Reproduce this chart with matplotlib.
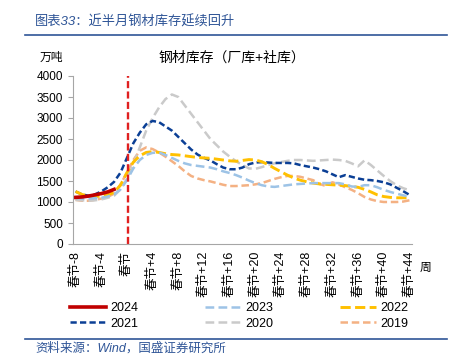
import numpy as np
import matplotlib
matplotlib.use("Agg")
import matplotlib.pyplot as plt
from matplotlib.lines import Line2D

plt.rcParams['font.family'] = ['Liberation Sans', 'Noto Sans CJK SC', 'DejaVu Sans']

weeks = np.arange(-8, 45)
tick_weeks = np.arange(-8, 45, 4)
tick_labels = ['春节' if w == 0 else f'春节{w:+d}' for w in tick_weeks]

y2024 = [1110, 1120, 1140, 1170, 1200, 1240, 1300]

y2023 = [1100, 1080, 1080, 1090, 1100, 1130, 1180, 1300, 1520, 1800, 2000, 2120, 2170,
         2180, 2120, 2050, 1980, 1920, 1880, 1860, 1840, 1820, 1780, 1730, 1690, 1640,
         1580, 1510, 1450, 1400, 1370, 1360, 1380, 1400, 1420, 1430, 1440, 1450, 1450,
         1450, 1450, 1450, 1420, 1370, 1360, 1400, 1400, 1350, 1290, 1240, 1200, 1160, 1130]

y2022 = [1250, 1180, 1140, 1130, 1140, 1170, 1230, 1400, 1700, 1950, 2100, 2180, 2200,
         2180, 2150, 2130, 2120, 2100, 2080, 2060, 2050, 2040, 2020, 2000, 1980, 1970,
         1990, 2010, 2000, 1960, 1890, 1800, 1720, 1640, 1570, 1520, 1480, 1450, 1430,
         1420, 1410, 1400, 1390, 1370, 1350, 1300, 1240, 1170, 1130, 1110, 1100, 1100, 1100]

y2021 = [1250, 1180, 1150, 1180, 1250, 1350, 1480, 1700, 2050, 2400, 2650, 2850, 2930,
         2900, 2800, 2700, 2550, 2400, 2250, 2130, 2050, 1990, 1900, 1820, 1780, 1780,
         1820, 1900, 1940, 1950, 1940, 1930, 1930, 1930, 1920, 1880, 1850, 1820, 1780,
         1730, 1660, 1590, 1640, 1600, 1560, 1530, 1520, 1500, 1470, 1420, 1340, 1260, 1170]

y2020 = [1050, 1040, 1030, 1040, 1060, 1100, 1150, 1300, 1550, 1900, 2300, 2700, 3000,
         3250, 3450, 3560, 3500, 3300, 3100, 2900, 2700, 2500, 2350, 2200, 2080, 1970,
         1880, 1800, 1790, 1830, 1880, 1920, 1950, 1980, 2000, 2000, 1990, 1980, 1990,
         2000, 2010, 2000, 1980, 1920, 1850, 1990, 1880, 1750, 1620, 1500, 1400, 1330, 1280]

y2019 = [1050, 1030, 1030, 1050, 1080, 1120, 1200, 1420, 1700, 2000, 2220, 2300, 2260,
         2180, 2080, 1970, 1860, 1730, 1620, 1560, 1520, 1490, 1450, 1410, 1380, 1380,
         1390, 1400, 1420, 1450, 1500, 1550, 1590, 1620, 1620, 1600, 1560, 1520, 1430,
         1380, 1470, 1420, 1350, 1290, 1210, 1120, 1060, 1020, 1000, 1000, 1000, 1010, 1040]

fig = plt.figure(figsize=(4.56, 3.6), dpi=100)
ax = fig.add_axes([73 / 456, 1 - 244 / 360, 339 / 456, 168 / 360])

ax.plot(weeks, y2019, color='#F4B183', lw=1.8, dashes=(3, 1.5), label='2019')
ax.plot(weeks, y2020, color='#CACACA', lw=1.8, dashes=(3.5, 1.7), label='2020')
ax.plot(weeks, y2021, color='#0B3F95', lw=1.8, dashes=(2.5, 1.3), label='2021')
ax.plot(weeks, y2022, color='#FFC000', lw=2.1, dashes=(3.5, 1.5), label='2022')
ax.plot(weeks, y2023, color='#9DC3E6', lw=1.8, dashes=(3.5, 1.7), label='2023')
ax.plot(weeks[:len(y2024)], y2024, color='#C00000', lw=2.6, label='2024')
ax.axvline(0.15, color='#E02020', lw=1.7, dashes=(3, 1.4))

ax.set_xlim(-8.4, 44.4)
ax.set_ylim(0, 4000)
ax.set_yticks(range(0, 4001, 500))
ax.set_xticks(tick_weeks)
ax.set_xticklabels(tick_labels, rotation=90)
ax.tick_params(axis='x', length=0, pad=5, labelsize=9)
ax.tick_params(axis='y', direction='out', length=3.6, color='#A6A6A6', width=0.8,
               labelsize=8.5, pad=3.6)
for s in ['top', 'right']:
    ax.spines[s].set_visible(False)
for s in ['left', 'bottom']:
    ax.spines[s].set_color('#A6A6A6')
    ax.spines[s].set_linewidth(0.8)

h = {l.get_label(): l for l in ax.get_lines()}
order = ['2024', '2021', '2023', '2020', '2022', '2019']
leg = ax.legend([h[k] for k in order], order, loc='upper left',
                bbox_to_anchor=(70 / 456, 1 - 302 / 360), bbox_transform=fig.transFigure,
                ncol=3, frameon=False, fontsize=9, borderpad=0, borderaxespad=0,
                handlelength=2.9, handletextpad=0.35, columnspacing=5.3, labelspacing=0.3)

fig.text(232 / 456, 1 - 58 / 360, '钢材库存（厂库+社库）', ha='center', va='center', fontsize=10)
fig.text(40 / 456, 1 - 58 / 360, '万吨', ha='left', va='center', fontsize=8.5)
fig.text(426 / 456, 1 - 268 / 360, '周', ha='center', va='center', fontsize=8.5)

blue = '#2F5597'
fig.text(35 / 456, 1 - 22 / 360, '图表33：近半月钢材库存延续回升', ha='left', va='center',
         fontsize=9.5, color=blue, style='italic')
fig.add_artist(Line2D([25 / 456, 447 / 456], [1 - 35 / 360] * 2, color=blue, lw=1.2))
fig.add_artist(Line2D([25 / 456, 447 / 456], [1 - 339 / 360] * 2, color=blue, lw=1.2))
fig.text(35 / 456, 1 - 348 / 360, '资料来源：Wind，国盛证券研究所', ha='left', va='center',
         fontsize=9, color=blue, style='italic')

fig.savefig('out.png', dpi=100)
